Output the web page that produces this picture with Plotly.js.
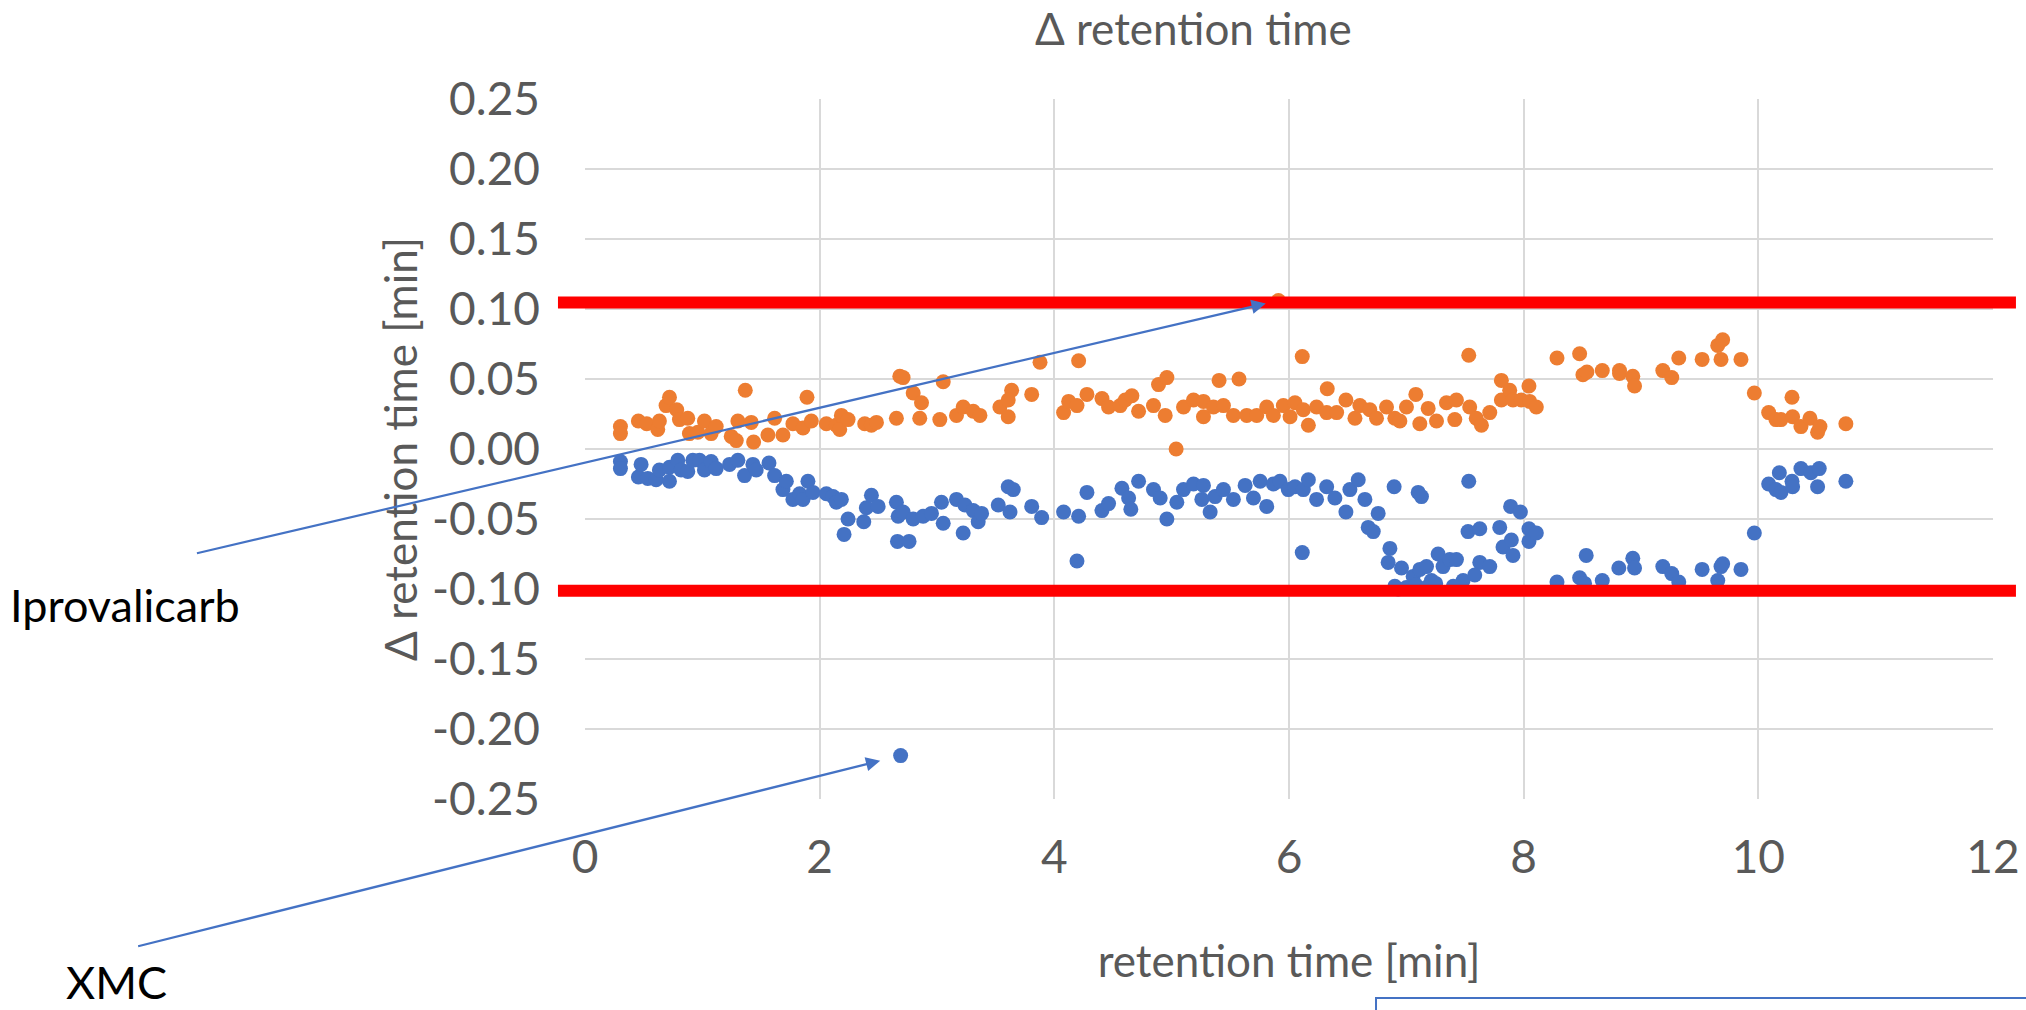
<!DOCTYPE html>
<html>
<head>
<meta charset="utf-8">
<script src="https://cdn.plot.ly/plotly-3.0.1.min.js"></script>
<style>
  html, body { margin: 0; padding: 0; background: #ffffff; }
  #chart { width: 2026px; height: 1010px; }
</style>
</head>
<body>
<div id="chart"></div>
<script>
// Series 1 (blue): retention time [min] and Δ retention time [min]
const blueTime = [
  0.302,0.302,0.455,0.478,0.535,0.606,0.634,0.720,0.720,0.791,0.819,0.876,0.919,0.976,1.018,1.075,1.118,1.232,1.303,1.360,
  1.431,1.459,1.568,1.616,1.687,1.716,1.772,1.829,1.900,1.858,1.943,2.057,2.114,2.142,2.185,2.242,2.208,2.376,2.398,2.441,
  2.498,2.654,2.669,2.711,2.663,2.762,2.797,2.882,2.953,3.053,3.038,3.166,3.223,3.238,3.309,3.351,3.380,3.522,3.607,3.622,
  3.650,3.807,3.892,
  4.079,4.207,4.193,4.278,4.406,4.462,4.576,4.633,4.652,4.718,4.845,4.902,4.959,5.044,5.101,5.186,5.271,5.257,5.328,5.370,
  5.441,5.526,5.626,5.697,5.754,5.810,5.867,5.923,5.994,6.051,6.122,6.165,6.113,6.235,6.321,6.391,6.485,6.519,6.590,6.647,
  6.675,6.718,6.760,6.896,6.860,6.845,6.959,6.902,7.058,7.115,7.129,7.101,7.172,7.214,7.271,7.313,7.370,7.427,7.484,7.526,
  7.532,7.626,7.626,7.583,7.711,
  6.930,7.000,7.080,7.170,7.250,7.400,
  7.796,7.824,7.889,7.895,7.909,7.972,8.045,8.045,8.108,8.284,8.477,8.519,8.533,8.670,8.811,8.930,8.945,9.186,9.262,9.322,
  9.521,9.654,9.682,9.696,9.852,9.966,10.088,10.150,10.179,10.193,10.287,10.292,10.363,10.448,10.505,10.519,10.746,
  2.690
];
const blueDelta = [
  -0.009,-0.014,-0.020,-0.011,-0.021,-0.022,-0.015,-0.023,-0.013,-0.008,-0.015,-0.016,-0.008,-0.008,-0.015,-0.009,-0.014,-0.011,-0.008,-0.019,
  -0.011,-0.015,-0.010,-0.019,-0.029,-0.023,-0.036,-0.032,-0.023,-0.036,-0.031,-0.032,-0.034,-0.038,-0.036,-0.050,-0.061,-0.052,-0.042,-0.033,
  -0.041,-0.038,-0.048,-0.045,-0.066,-0.066,-0.050,-0.048,-0.046,-0.053,-0.038,-0.036,-0.060,-0.040,-0.044,-0.052,-0.046,-0.040,-0.027,-0.045,
  -0.029,-0.041,-0.049,
  -0.045,-0.048,-0.080,-0.031,-0.044,-0.039,-0.028,-0.035,-0.043,-0.023,-0.029,-0.035,-0.050,-0.038,-0.029,-0.025,-0.026,-0.036,-0.045,-0.034,
  -0.029,-0.036,-0.026,-0.035,-0.023,-0.041,-0.025,-0.023,-0.029,-0.027,-0.029,-0.022,-0.074,-0.036,-0.027,-0.035,-0.045,-0.029,-0.022,-0.036,
  -0.056,-0.059,-0.046,-0.027,-0.071,-0.081,-0.085,-0.098,-0.091,-0.086,-0.034,-0.031,-0.084,-0.094,-0.075,-0.084,-0.079,-0.079,-0.094,-0.059,
  -0.023,-0.057,-0.081,-0.090,-0.084,
  -0.100,-0.099,-0.097,-0.099,-0.096,-0.098,
  -0.056,-0.070,-0.041,-0.065,-0.076,-0.045,-0.057,-0.066,-0.060,-0.095,-0.092,-0.096,-0.076,-0.094,-0.085,-0.078,-0.085,-0.084,-0.089,-0.095,
  -0.086,-0.094,-0.084,-0.082,-0.086,-0.060,-0.025,-0.029,-0.017,-0.031,-0.023,-0.027,-0.014,-0.017,-0.027,-0.014,-0.023,
  -0.219
];

// Series 2 (orange): retention time [min] and Δ retention time [min]
const orangeTime = [
  0.302,0.302,0.455,0.526,0.620,0.634,0.691,0.720,0.782,0.805,0.876,0.890,0.962,1.018,1.075,1.118,1.246,1.289,1.303,1.366,
  1.417,1.437,1.559,1.616,1.687,1.772,1.858,1.892,1.929,2.057,2.142,2.171,2.185,2.242,2.384,2.441,2.484,2.654,2.683,2.711,
  2.797,2.868,2.853,3.024,3.053,3.166,3.223,3.309,3.366,3.536,3.636,3.607,3.607,3.807,3.878,
  4.207,4.079,4.122,4.193,4.278,4.406,4.462,4.562,4.604,4.661,4.718,4.845,4.888,4.959,4.945,5.038,5.101,5.186,5.271,5.271,
  5.356,5.404,5.441,5.526,5.574,5.640,5.725,5.810,5.867,5.952,6.009,6.051,6.122,6.165,6.113,6.235,6.326,6.321,6.406,6.485,
  6.562,6.604,6.689,6.746,6.831,6.902,6.945,7.001,7.081,7.115,7.186,7.257,7.342,7.413,7.427,7.532,7.540,7.596,7.640,7.711,
  7.810,7.810,7.881,7.909,7.980,8.045,8.051,8.108,8.284,8.477,8.505,8.539,8.670,8.817,8.817,8.930,8.945,9.186,9.262,9.322,
  9.521,9.654,9.696,9.682,9.852,9.966,10.088,10.150,10.193,10.287,10.292,10.363,10.440,10.505,10.525,10.746,
  5.910
];
const orangeDelta = [
  0.016,0.011,0.020,0.018,0.014,0.020,0.031,0.037,0.028,0.021,0.022,0.011,0.012,0.020,0.011,0.016,0.009,0.006,0.020,0.042,
  0.019,0.005,0.010,0.022,0.010,0.018,0.015,0.037,0.020,0.018,0.017,0.014,0.024,0.021,0.018,0.017,0.019,0.022,0.052,0.051,
  0.040,0.033,0.022,0.021,0.048,0.024,0.030,0.027,0.024,0.030,0.042,0.035,0.023,0.039,0.062,
  0.063,0.026,0.034,0.031,0.039,0.036,0.030,0.031,0.035,0.038,0.027,0.031,0.046,0.051,0.024,0.000,0.030,0.035,0.034,0.023,
  0.030,0.049,0.031,0.024,0.050,0.024,0.024,0.030,0.024,0.031,0.023,0.033,0.028,0.017,0.066,0.030,0.043,0.026,0.026,0.035,
  0.022,0.031,0.028,0.022,0.030,0.022,0.020,0.030,0.039,0.018,0.029,0.020,0.033,0.021,0.035,0.067,0.030,0.022,0.017,0.026,
  0.049,0.035,0.042,0.035,0.035,0.045,0.034,0.030,0.065,0.068,0.053,0.055,0.056,0.056,0.054,0.052,0.045,0.056,0.051,0.065,
  0.064,0.074,0.078,0.064,0.064,0.040,0.026,0.021,0.021,0.037,0.023,0.016,0.022,0.012,0.016,0.018,
  0.106
];

// Tolerance limits for Δ retention time [min]
const limitDeltas = [0.1046, -0.1013];

// Axis ticks
const xTickVals = [0, 2, 4, 6, 8, 10, 12];
const yTickVals = [0.25, 0.20, 0.15, 0.10, 0.05, 0.00, -0.05, -0.10, -0.15, -0.20, -0.25];
const yTickText = ['0.25', '0.20', '0.15', '0.10', '0.05', '0.00', '-0.05', '-0.10', '-0.15', '-0.20', '-0.25'];

// Compounds called out: the orange outlier above the limit and the blue outlier far below
const calloutNames = ['Iprovalicarb', 'XMC'];

const BLUE = '#4472C4';
const ORANGE = '#ED7D31';
const GREY = '#595959';
const GRID = '#D9D9D9';
const FONT = 'Lato, "Open Sans", sans-serif';

const traces = [
  {
    type: 'scatter', mode: 'markers', name: 'Series 1',
    x: blueTime, y: blueDelta,
    marker: { color: BLUE, size: 15, line: { width: 0 } },
    hoverinfo: 'x+y'
  },
  {
    type: 'scatter', mode: 'markers', name: 'Series 2',
    x: orangeTime, y: orangeDelta,
    marker: { color: ORANGE, size: 15, line: { width: 0 } },
    hoverinfo: 'x+y'
  }
];

// locate the called-out points from the series themselves
const iMaxOrange = orangeDelta.indexOf(Math.max(...orangeDelta));
const iMinBlue = blueDelta.indexOf(Math.min(...blueDelta));

const shapes = limitDeltas.map(v => ({
  type: 'line', xref: 'paper', yref: 'y',
  x0: -0.0192, x1: 1.0163, y0: v, y1: v,
  line: { color: '#FF0000', width: 12 },
  layer: 'above'
}));
// outlined box at the lower right edge
shapes.push({
  type: 'rect', xref: 'paper', yref: 'paper',
  x0: 0.5618, x1: 1.04, y0: -0.2843, y1: -0.34,
  line: { color: BLUE, width: 2 }, fillcolor: 'rgba(0,0,0,0)'
});

const annotations = [
  {
    x: orangeTime[iMaxOrange], y: orangeDelta[iMaxOrange], xref: 'x', yref: 'y',
    text: '', showarrow: true, arrowhead: 2, arrowsize: 1.3, arrowwidth: 2.2, arrowcolor: BLUE,
    axref: 'pixel', ayref: 'pixel', ax: -1083, ay: 253, standoff: 13
  },
  {
    x: blueTime[iMinBlue], y: blueDelta[iMinBlue], xref: 'x', yref: 'y',
    text: '', showarrow: true, arrowhead: 2, arrowsize: 1.3, arrowwidth: 2.2, arrowcolor: BLUE,
    axref: 'pixel', ayref: 'pixel', ax: -764, ay: 191, standoff: 21
  },
  {
    x: -0.3264, y: 0.2771, xref: 'paper', yref: 'paper', xanchor: 'center', yanchor: 'middle',
    text: calloutNames[0], showarrow: false,
    font: { family: FONT, size: 45, color: '#000000' }
  },
  {
    x: -0.3324, y: -0.3029, xref: 'paper', yref: 'paper', xanchor: 'center', yanchor: 'bottom',
    text: calloutNames[1], showarrow: false,
    font: { family: FONT, size: 45, color: '#000000' }
  }
];

const layout = {
  width: 2026, height: 1010,
  margin: { l: 585, r: 33, t: 99, b: 211, pad: 0 },
  paper_bgcolor: '#ffffff', plot_bgcolor: '#ffffff',
  showlegend: false,
  font: { family: FONT, color: GREY },
  title: {
    text: 'Δ retention time',
    font: { family: FONT, size: 44, color: GREY },
    xref: 'container', yref: 'container',
    x: 0.589, xanchor: 'center', y: 0.9703, yanchor: 'middle'
  },
  xaxis: {
    range: [0, 12], tickmode: 'array', tickvals: xTickVals,
    showgrid: true, gridcolor: GRID, gridwidth: 2,
    zeroline: false, showline: false, ticks: '',
    tickfont: { family: FONT, size: 46, color: GREY },
    ticklabelstandoff: 27,
    title: { text: 'retention time [min]', font: { family: FONT, size: 44, color: GREY }, standoff: 64 }
  },
  yaxis: {
    range: [-0.25, 0.25], tickmode: 'array', tickvals: yTickVals, ticktext: yTickText,
    showgrid: true, gridcolor: GRID, gridwidth: 2,
    zeroline: false, showline: false, ticks: '',
    tickfont: { family: FONT, size: 46, color: GREY },
    ticklabelstandoff: 44,
    title: { text: 'Δ retention time [min]', font: { family: FONT, size: 44, color: GREY }, standoff: 0 }
  },
  shapes: shapes,
  annotations: annotations
};

Plotly.newPlot('chart', traces, layout, { displayModeBar: false, responsive: false });
</script>
</body>
</html>
